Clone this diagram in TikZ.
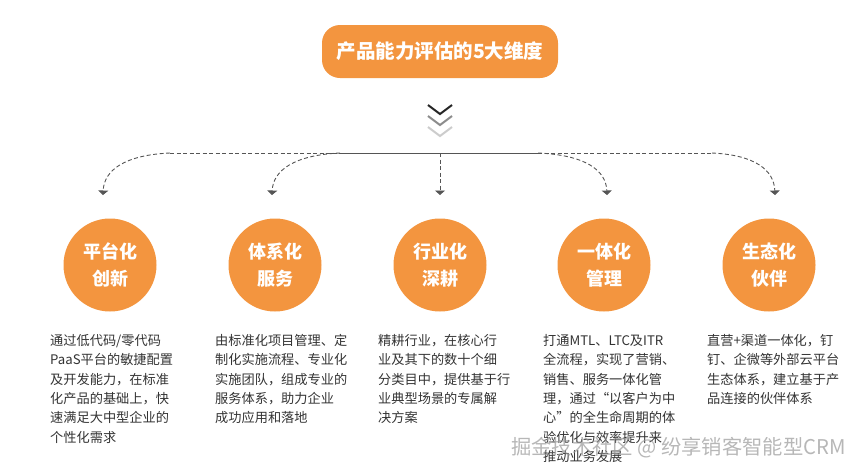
\documentclass[tikz,border=0pt]{standalone}
\usepackage{fontspec}
\setmainfont{Noto Sans CJK SC}
\usetikzlibrary{arrows.meta,calc}
\definecolor{orng}{HTML}{F3953F}
\definecolor{txt}{HTML}{333333}
\definecolor{ln}{HTML}{555555}
\begin{document}
\begin{tikzpicture}[x=1pt,y=-1pt,
  circ/.style={circle,fill=orng,minimum size=93pt,inner sep=0pt,text=white,font=\fontsize{18}{27}\selectfont\bfseries,align=center},
  desc/.style={anchor=north west,inner sep=0pt,text=txt,align=left,font=\fontsize{13.2}{19.4}\selectfont},
  conn/.style={draw=ln,line width=0.9pt,dash pattern=on 4pt off 2.5pt,-{Triangle[width=10pt,length=4.5pt]}},
  chev/.style={line width=2pt}]
\useasboundingbox (0,0) rectangle (861,475);
% title
\node[fill=orng,rounded corners=18pt,minimum width=236pt,minimum height=53pt,text=white,font=\fontsize{19.5}{24}\selectfont\bfseries] (title) at (440,51.5) {产品能力评估的5大维度};
% chevrons
\coordinate (c1) at (440,114);
\coordinate (c2) at (440,125);
\coordinate (c3) at (440,136);
\draw[chev,black!85] ($(c1)+(-12,-9)$) -- (c1) -- ($(c1)+(12,-9)$);
\draw[chev,black!45] ($(c2)+(-12,-9)$) -- (c2) -- ($(c2)+(12,-9)$);
\draw[chev,black!20] ($(c3)+(-12,-9)$) -- (c3) -- ($(c3)+(12,-9)$);
% hub line
\coordinate (hub) at (440,153);
\coordinate (hl) at (340,153);
\coordinate (hr) at (538,153);
\coordinate (hll) at (170,153);
\coordinate (hrr) at (712,153);
\draw[ln,line width=0.9pt] (hl) -- (hr);
\draw[ln,line width=0.9pt,dash pattern=on 4pt off 2.5pt] (hll) -- (hl) (hr) -- (hrr);
% arrow ends
\coordinate (a1) at (103,195);
\coordinate (a2) at (272,195);
\coordinate (a3) at (440,195);
\coordinate (a4) at (607,195);
\coordinate (a5) at (775,195);
\draw[conn] (hll) .. controls (125,155) and (104,170) .. (a1);
\draw[conn] (hl) .. controls (295,155) and (273,170) .. (a2);
\draw[conn] (hub) -- (a3);
\draw[conn] (hr) .. controls (585,155) and (606,170) .. (a4);
\draw[conn] (hrr) .. controls (755,155) and (774,170) .. (a5);
% circles
\node[circ] (n1) at (110,265) {平台化\\创新};
\node[circ] (n2) at (275,265) {体系化\\服务};
\node[circ] (n3) at (440,265) {行业化\\深耕};
\node[circ] (n4) at (604,265) {一体化\\管理};
\node[circ] (n5) at (769,265) {生态化\\伙伴};
% descriptions
\node[desc] (d1) at (50,334) {通过低代码/零代码\\PaaS平台的敏捷配置\\及开发能力，在标准\\化产品的基础上，快\\速满足大中型企业的\\个性化需求};
\node[desc] (d2) at (215,334) {由标准化项目管理、定\\制化实施流程、专业化\\实施团队，组成专业的\\服务体系，助力企业\\成功应用和落地};
\node[desc] (d3) at (378,334) {精耕行业，在核心行\\业及其下的数十个细\\分类目中，提供基于行\\业典型场景的专属解\\决方案};
\node[desc] (d4) at (543,334) {打通MTL、LTC及ITR\\全流程，实现了营销、\\销售、服务一体化管\\理，通过“以客户为中\\心”的全生命周期的体\\验优化与效率提升来\\推动业务发展};
\node[desc] (d5) at (707,334) {直营+渠道一体化，钉\\钉、企微等外部云平台\\生态体系，建立基于产\\品连接的伙伴体系};
% watermark
\node[text=black!40,opacity=0.7,font=\fontsize{20.3}{24}\selectfont,inner sep=0pt,anchor=east] (wm) at (846,448) {掘金技术社区 @ 纷享销客智能型CRM};
\end{tikzpicture}
\end{document}
